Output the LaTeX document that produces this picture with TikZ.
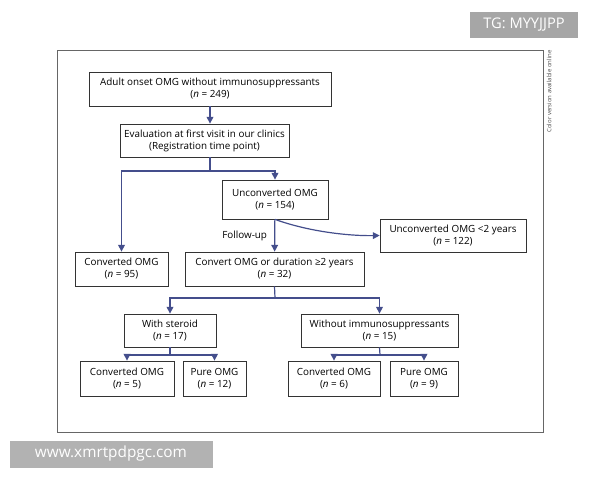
\documentclass[tikz,border=0pt]{standalone}
\usepackage{fontspec}
\setmainfont{Open Sans}
\usetikzlibrary{arrows.meta}
\definecolor{flowblue}{RGB}{68,78,140}
\tikzset{
  box/.style={draw=black!80, line width=0.6pt, align=center, font=\fontsize{7.4}{9}\selectfont, inner sep=2pt},
  flow/.style={draw=flowblue, line width=0.9pt, -{Triangle[width=5pt,length=5pt]}},
  link/.style={draw=flowblue, line width=0.9pt}
}
\begin{document}
\begin{tikzpicture}[x=0.75pt,y=0.75pt,yscale=-1]
\useasboundingbox (0,0) rectangle (600,480);
% frame
\draw[black!60, line width=0.6pt] (57,50) rectangle (543,432);
\node[rotate=90, anchor=east, font=\fontsize{4.5}{5}\selectfont, text=black!70, inner sep=0pt] (cv) at (549,50) {Color version available online};
% watermarks
\node[fill=black!35, text=white, font=\fontsize{11}{12}\selectfont, minimum width=108*0.75pt, minimum height=26*0.75pt, inner sep=0pt] (tg) at (524,25) {TG: MYYJJPP};
\node[fill=black!30, text=white, font=\fontsize{11.5}{13}\selectfont, minimum width=203*0.75pt, minimum height=27*0.75pt, inner sep=0pt] (www) at (111,454) {www.xmrtpdpgc.com};
% boxes
\node[box, minimum width=242*0.75pt, minimum height=34*0.75pt] (onset) at (210,89) {Adult onset OMG without immunosuppressants\\(\textit{n} = 249)};
\node[box, minimum width=169*0.75pt, minimum height=33*0.75pt] (eval) at (204.5,140.5) {Evaluation at first visit in our clinics\\(Registration time point)};
\node[box, minimum width=106*0.75pt, minimum height=39*0.75pt] (uncon) at (275,199.5) {Unconverted OMG\\(\textit{n} = 154)};
\node[box, minimum width=146*0.75pt, minimum height=33*0.75pt] (short) at (453,235.5) {Unconverted OMG <2 years\\(\textit{n} = 122)};
\node[box, minimum width=93*0.75pt, minimum height=34*0.75pt] (conv) at (121.5,269) {Converted OMG\\(\textit{n} = 95)};
\node[box, minimum width=179*0.75pt, minimum height=34*0.75pt] (two) at (274.5,269) {Convert OMG or duration ≥2 years\\(\textit{n} = 32)};
\node[box, minimum width=92*0.75pt, minimum height=33*0.75pt] (ster) at (170,330.5) {With steroid\\(\textit{n} = 17)};
\node[box, minimum width=157*0.75pt, minimum height=33*0.75pt] (noimm) at (379.5,330.5) {Without immunosuppressants\\(\textit{n} = 15)};
\node[box, minimum width=94*0.75pt, minimum height=35*0.75pt] (sconv) at (127,378.5) {Converted OMG\\(\textit{n} = 5)};
\node[box, minimum width=63*0.75pt, minimum height=35*0.75pt] (spure) at (214.5,378.5) {Pure OMG\\(\textit{n} = 12)};
\node[box, minimum width=92*0.75pt, minimum height=35*0.75pt] (nconv) at (334,378.5) {Converted OMG\\(\textit{n} = 6)};
\node[box, minimum width=68*0.75pt, minimum height=35*0.75pt] (npure) at (424,378.5) {Pure OMG\\(\textit{n} = 9)};
% connectors
\draw[flow] (onset) -- (onset|-eval.north);
\coordinate (split) at (210,171);
\draw[link] (eval.south-|split) -- (split);
\draw[flow] (split) -| (uncon.north);
\draw[flow] (split) -| (conv.north);
\draw[flow] (uncon) -- node[left, font=\fontsize{7.4}{8}\selectfont, xshift=-2pt] {Follow-up} (two);
\draw[flow] (uncon.south) .. controls (310,232) and (350,236) .. (short.west);
\coordinate (split2) at (275,298);
\draw[link] (two.south) -- (split2);
\draw[flow] (split2) -| (ster.north);
\draw[flow] (split2) -| (noimm.north);
\coordinate (split3) at (170,355);
\draw[link] (ster.south) -- (split3);
\draw[flow] (split3) -| (sconv.north);
\draw[flow] (split3) -| (spure.north);
\coordinate (split4) at (380,355);
\draw[link] (noimm.south) -- (split4);
\draw[flow] (split4) -| (nconv.north);
\draw[flow] (split4) -| (npure.north);
\end{tikzpicture}
\end{document}
